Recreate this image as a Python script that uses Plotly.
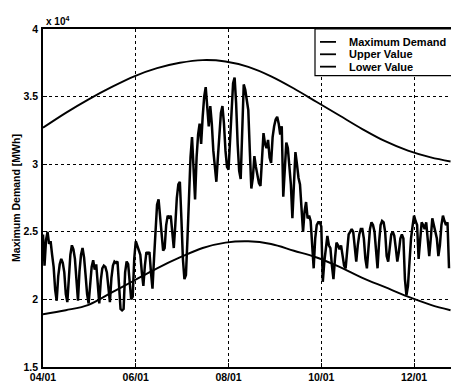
import pandas as pd
import plotly.graph_objects as go

# Daily maximum demand, 10^4 MWh, starting 04/01
demand = [
    2.48, 2.25, 2.44, 2.50, 2.41, 2.43, 2.33,
    2.24, 2.07, 1.99, 2.17, 2.26, 2.30, 2.27,
    2.20, 2.04, 1.98, 2.19, 2.33, 2.40, 2.37,
    2.30, 2.12, 1.99, 2.21, 2.33, 2.38, 2.31,
    2.18, 2.04, 1.97, 2.14, 2.24, 2.29, 2.22,
    2.26, 2.10, 1.97, 2.14, 2.23, 2.25, 2.24,
    2.20, 2.06, 1.98, 2.16, 2.25, 2.28, 2.27,
    2.28, 2.06, 1.93, 1.92, 1.93, 2.20, 2.28,
    2.26, 2.12, 2.00, 2.02, 2.30, 2.43, 2.40,
    2.36, 2.33, 2.20, 2.10, 2.25, 2.35, 2.34,
    2.35, 2.20, 2.08, 2.30, 2.55, 2.70, 2.74,
    2.60, 2.45, 2.36, 2.38, 2.55, 2.62, 2.60,
    2.62, 2.48, 2.38, 2.55, 2.75, 2.85, 2.87,
    2.60, 2.30, 2.15, 2.18, 2.45, 2.80, 3.05,
    3.20, 2.95, 2.74, 3.05, 3.22, 3.30, 3.15,
    3.35, 3.50, 3.57, 3.40, 3.28, 3.43, 3.30,
    3.10, 2.95, 2.87, 3.05, 3.25, 3.38, 3.43,
    3.30, 3.10, 2.98, 2.96, 3.20, 3.45, 3.60,
    3.64, 3.45, 3.15, 2.95, 2.89, 3.30, 3.59,
    3.55, 3.48, 3.40, 3.10, 2.82, 2.90, 3.06,
    2.98, 2.92, 2.86, 2.84, 3.05, 3.23, 3.15,
    3.12, 3.18, 3.05, 3.01, 3.20, 3.28, 3.33,
    3.35, 3.30, 3.22, 3.28, 2.76, 2.95, 3.16,
    3.12, 3.00, 2.85, 2.60, 2.85, 3.09, 3.00,
    2.90, 2.85, 2.70, 2.50, 2.65, 2.72, 2.60,
    2.62, 2.58, 2.40, 2.23, 2.45, 2.55, 2.57,
    2.57, 2.54, 2.13, 2.28, 2.40, 2.47, 2.40,
    2.38, 2.25, 2.15, 2.30, 2.42, 2.40, 2.37,
    2.40, 2.32, 2.25, 2.23, 2.38, 2.48, 2.50,
    2.52, 2.50, 2.40, 2.28, 2.40, 2.48, 2.52,
    2.52, 2.45, 2.30, 2.23, 2.40, 2.52, 2.57,
    2.55, 2.50, 2.35, 2.23, 2.42, 2.55, 2.58,
    2.57, 2.50, 2.32, 2.28, 2.40, 2.48, 2.50,
    2.47, 2.38, 2.28, 2.35, 2.45, 2.48, 2.45,
    2.15, 2.03, 2.10, 2.30, 2.45, 2.54, 2.62,
    2.58, 2.55, 2.30, 2.45, 2.57, 2.55, 2.52,
    2.57, 2.45, 2.32, 2.45, 2.60, 2.55, 2.50,
    2.45, 2.32, 2.40, 2.55, 2.62, 2.58, 2.55,
    2.57, 2.23,
]

# Envelope curves, sampled every 15 days from 04/01 (10^4 MWh)
envelope_days = [0, 15, 30, 45, 60, 75, 90, 105, 120, 135,
                 150, 165, 180, 195, 210, 225, 240, 255, 268]
upper_value = [3.27, 3.38, 3.48, 3.57, 3.65, 3.71, 3.75, 3.77, 3.76, 3.72,
               3.65, 3.56, 3.46, 3.36, 3.26, 3.17, 3.10, 3.05, 3.02]
lower_value = [1.89, 1.92, 1.96, 2.05, 2.14, 2.23, 2.31, 2.38, 2.42, 2.43,
               2.41, 2.36, 2.31, 2.24, 2.16, 2.09, 2.02, 1.96, 1.92]

series_names = ["Maximum Demand", "Upper Value", "Lower Value"]
y_ticks = [1.5, 2, 2.5, 3, 3.5, 4]
y_tick_text = ["1.5", "2", "2.5", "3", "3.5", "4"]
x_tick_dates = ["1994-04-01", "1994-06-01", "1994-08-01", "1994-10-01", "1994-12-01"]

start = pd.Timestamp("1994-04-01")
demand_dates = pd.date_range(start, periods=len(demand), freq="D")
envelope_dates = [start + pd.Timedelta(days=d) for d in envelope_days]

W, H = 451, 383
ML, MR, MT, MB = 43, 0, 29, 13
PW, PH = W - ML - MR, H - MT - MB

FONT = "Liberation Sans, Arial, sans-serif"

fig = go.Figure()
fig.add_trace(go.Scatter(x=demand_dates, y=demand, mode="lines", name=series_names[0],
                         line=dict(color="black", width=2.5), showlegend=False))
fig.add_trace(go.Scatter(x=envelope_dates, y=upper_value, mode="lines", name=series_names[1],
                         line=dict(color="black", width=1.9, shape="spline"), showlegend=False))
fig.add_trace(go.Scatter(x=envelope_dates, y=lower_value, mode="lines", name=series_names[2],
                         line=dict(color="black", width=1.9, shape="spline"), showlegend=False))


def px_x(p):
    return (p - ML) / PW


def px_y(p):
    return (H - MB - p) / PH


# Boxed legend in the top-right corner
shapes = [dict(type="rect", xref="paper", yref="paper",
               x0=px_x(315), x1=px_x(453), y0=px_y(76), y1=px_y(29),
               line=dict(color="black", width=1.2), fillcolor="white", layer="above")]
annotations = []
for i, name in enumerate(series_names):
    yy = px_y(42 + 12.5 * i)
    shapes.append(dict(type="line", xref="paper", yref="paper",
                       x0=px_x(320), x1=px_x(336), y0=yy, y1=yy,
                       line=dict(color="black", width=1.8), layer="above"))
    annotations.append(dict(xref="paper", yref="paper", x=px_x(347), y=yy,
                            text=name, showarrow=False, xanchor="left", yanchor="middle",
                            font=dict(family=FONT, size=11, color="black", weight="bold")))

# Axis multiplier
annotations.append(dict(xref="paper", yref="paper", x=px_x(44), y=px_y(21),
                        text="x 10<sup>4</sup>", showarrow=False, xanchor="left",
                        yanchor="middle",
                        font=dict(family=FONT, size=10, color="black", weight="bold")))

axis_common = dict(
    showline=True, linecolor="black", linewidth=1.5,
    ticks="inside", ticklen=4, tickcolor="black",
    showgrid=True, gridcolor="black", gridwidth=1, griddash="dot",
    zeroline=False,
    tickfont=dict(family=FONT, size=10.5, color="black", weight="bold"),
)

fig.update_layout(
    width=W, height=H,
    margin=dict(l=ML, r=MR, t=MT, b=MB, pad=0),
    paper_bgcolor="white", plot_bgcolor="white",
    showlegend=False,
    shapes=shapes, annotations=annotations,
    xaxis=dict(
        axis_common,
        type="date",
        range=[start, start + pd.Timedelta(hours=268.3 * 24)],
        tickvals=x_tick_dates, tickformat="%m/%d",
        mirror=True,
    ),
    yaxis=dict(
        axis_common,
        range=[1.5, 4],
        tickvals=y_ticks, ticktext=y_tick_text,
        title=dict(text="Maximum Demand [MWh]", standoff=1,
                   font=dict(family=FONT, size=10.5, color="black", weight="bold")),
        ticklabelstandoff=1,
    ),
)

fig.write_html("out.html")
